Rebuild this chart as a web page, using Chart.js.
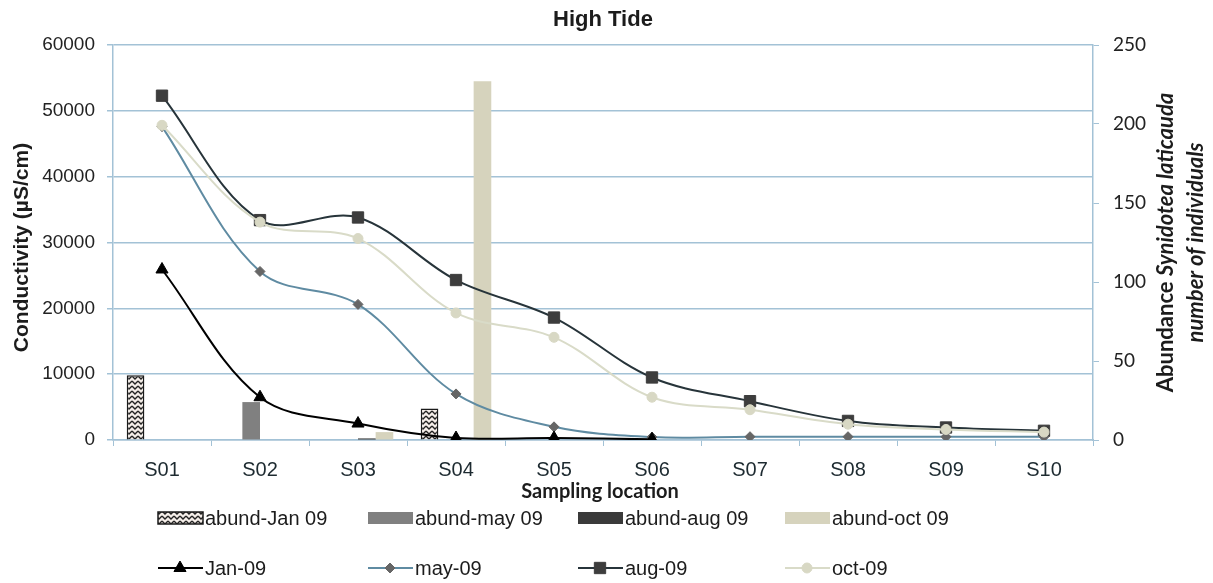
<!DOCTYPE html>
<html lang="en">
<head>
    <meta charset="UTF-8">
    <title>High Tide</title>
    <script src="https://cdn.jsdelivr.net/npm/chart.js@4.4.1/dist/chart.umd.min.js"></script>
    <style>
        body { margin: 0; background: #fff; }
        #wrap { width: 1213px; height: 583px; position: relative; }
    </style>
</head>
<body>
    <div id="wrap"><canvas id="myChart"></canvas></div>
    <script>
        // categories
        const locations = ['S01', 'S02', 'S03', 'S04', 'S05', 'S06', 'S07', 'S08', 'S09', 'S10'];

        // conductivity (µS/cm), left axis
        const condJan = [25900, 6500, 2500, 300, 300, 100, null, null, null, null];
        const condMay = [47600, 25600, 20600, 7000, 2000, 450, 500, 500, 500, 500];
        const condAug = [52300, 33400, 33800, 24300, 18600, 9500, 5900, 2900, 1900, 1400];
        const condOct = [47800, 33100, 30600, 19300, 15600, 6500, 4600, 2400, 1600, 1200];

        // abundance Synidotea laticauda (number of individuals), right axis
        const abundJan = [41, 0, 0, 20, 0, 0, 0, 0, 0, 0];
        const abundMay = [0, 24, 0, 0, 0, 0, 0, 0, 0, 0];
        const abundAug = [0, 0, 1, 0, 0, 0, 0, 0, 0, 0];
        const abundOct = [0, 0, 5, 227, 0, 0, 0, 0, 0, 0];

        // tick labels
        const condTicks = [0, 10000, 20000, 30000, 40000, 50000, 60000];
        const abundTicks = [0, 50, 100, 150, 200, 250];

        const gridBlue = '#a3c2d6';

        // zigzag pattern for the january bars
        function zigzag() {
            const c = document.createElement('canvas');
            c.width = 6; c.height = 5;
            const g = c.getContext('2d');
            g.fillStyle = '#f4ede8';
            g.fillRect(0, 0, 6, 5);
            g.strokeStyle = '#222';
            g.lineWidth = 1.3;
            g.beginPath();
            g.moveTo(0, 1); g.lineTo(3, 4); g.lineTo(6, 1);
            g.stroke();
            return g.createPattern(c, 'repeat');
        }
        const janPattern = zigzag();

        // title, axis titles and the two-row legend
        const overlay = {
            id: 'overlay',
            afterDraw(chart) {
                const ctx = chart.ctx;
                const a = chart.chartArea;
                const midX = (a.left + a.right) / 2;
                const midY = (a.top + a.bottom) / 2;
                ctx.save();
                ctx.fillStyle = '#1c1c1c';
                ctx.textBaseline = 'middle';
                ctx.textAlign = 'center';

                ctx.font = 'bold 22px "Liberation Sans", Arial, sans-serif';
                ctx.fillText('High Tide', midX, 20);

                ctx.font = 'bold 20px Lato, sans-serif';
                ctx.fillText('Sampling location', midX - 3, 492);

                // left axis title
                ctx.save();
                ctx.translate(22, midY + 5);
                ctx.rotate(-Math.PI / 2);
                ctx.font = 'bold 21px "Liberation Sans", Arial, sans-serif';
                ctx.fillText('Conductivity (µS/cm)', 0, 0);
                ctx.restore();

                // right axis title, mixed styles
                ctx.save();
                ctx.translate(1166, midY);
                ctx.rotate(-Math.PI / 2);
                ctx.textAlign = 'left';
                const p1 = 'Abundance ', p2 = 'Synidotea laticauda';
                ctx.font = 'bold 22px Lato, sans-serif';
                const w1 = ctx.measureText(p1).width;
                ctx.font = 'italic bold 22px Lato, sans-serif';
                const w2 = ctx.measureText(p2).width;
                let x0 = -(w1 + w2) / 2;
                ctx.font = 'bold 22px Lato, sans-serif';
                ctx.fillText(p1, x0, 0);
                ctx.font = 'italic bold 22px Lato, sans-serif';
                ctx.fillText(p2, x0 + w1, 0);
                ctx.textAlign = 'center';
                ctx.fillText('number of individuals', 0, 30);
                ctx.restore();

                // legend
                const cols = [158, 368, 578, 785];
                const rows = [518, 568];
                ctx.font = '20px "Liberation Sans", Arial, sans-serif';
                ctx.textAlign = 'left';
                chart.data.datasets.forEach((ds, i) => {
                    const isBar = ds.type !== 'line';
                    const col = isBar ? i : i - 4;
                    const x = cols[col];
                    const y = rows[isBar ? 0 : 1];
                    if (isBar) {
                        ctx.fillStyle = ds.backgroundColor;
                        ctx.fillRect(x, y - 6, 45, 12);
                        if (ds.borderWidth) {
                            ctx.strokeStyle = ds.borderColor;
                            ctx.lineWidth = 1.5;
                            ctx.strokeRect(x, y - 6, 45, 12);
                        }
                    } else {
                        ctx.strokeStyle = ds.borderColor;
                        ctx.lineWidth = 2;
                        ctx.beginPath();
                        ctx.moveTo(x, y); ctx.lineTo(x + 45, y);
                        ctx.stroke();
                        ctx.fillStyle = ds.pointBackgroundColor;
                        ctx.strokeStyle = ds.pointBorderColor;
                        ctx.lineWidth = 1;
                        Chart.helpers.drawPoint(ctx, {
                            pointStyle: ds.pointStyle,
                            radius: ds.pointRadius,
                            borderWidth: 1
                        }, x + 22, y);
                    }
                    ctx.fillStyle = '#1c1c1c';
                    ctx.fillText(ds.label, x + 47, y + 1);
                });
                ctx.restore();
            }
        };

        function lineSet(label, data, color, style, radius, fill, order) {
            return {
                type: 'line',
                label: label,
                data: data,
                yAxisID: 'y',
                order: order,
                borderColor: color,
                borderWidth: 2,
                tension: 0.35,
                pointStyle: style,
                pointRadius: radius,
                pointBackgroundColor: fill,
                pointBorderColor: fill,
                pointBorderWidth: 1,
                spanGaps: false
            };
        }

        function barSet(label, data, color, border) {
            return {
                type: 'bar',
                label: label,
                data: data,
                yAxisID: 'y1',
                order: 10,
                backgroundColor: color,
                borderColor: border || color,
                borderWidth: border ? 1.5 : 0,
                categoryPercentage: 0.72,
                barPercentage: 1.0
            };
        }

        const ctx = document.getElementById('myChart').getContext('2d');
        const myChart = new Chart(ctx, {
            type: 'bar',
            data: {
                labels: locations,
                datasets: [
                    barSet('abund-Jan 09', abundJan, janPattern, '#1a1a1a'),
                    barSet('abund-may 09', abundMay, '#808080'),
                    barSet('abund-aug 09', abundAug, '#3a3a3a'),
                    barSet('abund-oct 09', abundOct, '#d6d3bd'),
                    lineSet('Jan-09', condJan, '#000000', 'triangle', 7, '#000000', 1),
                    lineSet('may-09', condMay, '#5f8ba2', 'rectRot', 5, '#666666', 2),
                    lineSet('aug-09', condAug, '#27343a', 'rect', 8, '#3d3d3d', 3),
                    lineSet('oct-09', condOct, '#d9dbc8', 'circle', 5, '#d8d8c4', 0)
                ]
            },
            options: {
                responsive: true,
                maintainAspectRatio: false,
                animation: false,
                layout: { padding: { top: 45, left: 0, right: 0, bottom: 0 } },
                plugins: {
                    legend: { display: false },
                    title: { display: false },
                    tooltip: { enabled: false }
                },
                scales: {
                    x: {
                        offset: true,
                        grid: {
                            offset: true,
                            drawOnChartArea: false,
                            drawTicks: true,
                            tickLength: 6,
                            color: gridBlue
                        },
                        border: { color: gridBlue, width: 1.5 },
                        ticks: {
                            padding: 12,
                            color: '#1d2a30',
                            font: { family: '"Liberation Sans", Arial, sans-serif', size: 20 }
                        },
                        afterFit(scale) { scale.height = 143; }
                    },
                    y: {
                        position: 'left',
                        min: 0,
                        max: 60000,
                        afterBuildTicks(scale) { scale.ticks = condTicks.map(v => ({ value: v })); },
                        grid: { color: gridBlue, lineWidth: 1.5, tickLength: 6 },
                        border: { color: gridBlue, width: 1.5 },
                        ticks: {
                            padding: 12,
                            color: '#222222',
                            font: { family: '"Liberation Sans", Arial, sans-serif', size: 19 },
                            callback: v => String(v)
                        },
                        afterFit(scale) { scale.width = 113; }
                    },
                    y1: {
                        position: 'right',
                        min: 0,
                        max: 250,
                        afterBuildTicks(scale) { scale.ticks = abundTicks.map(v => ({ value: v })); },
                        grid: { drawOnChartArea: false, color: gridBlue, tickLength: 6 },
                        border: { color: gridBlue, width: 1.5 },
                        ticks: {
                            padding: 14,
                            color: '#222222',
                            font: { family: 'Lato, sans-serif', size: 19 },
                            callback: v => String(v)
                        },
                        afterFit(scale) { scale.width = 120; }
                    }
                }
            },
            plugins: [overlay]
        });
    </script>
</body>
</html>
